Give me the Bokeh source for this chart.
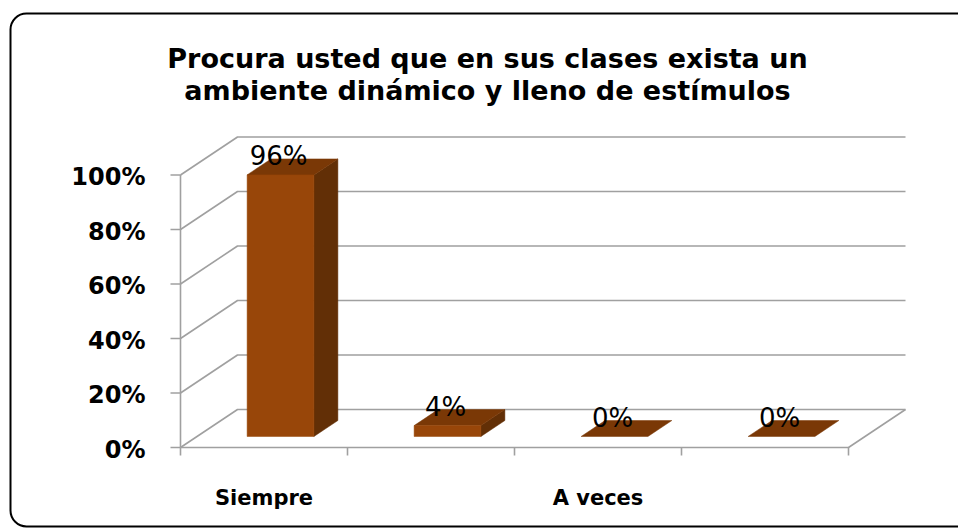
from bokeh.plotting import figure
from bokeh.models import Range1d, BoxAnnotation, ColumnDataSource, Label
from bokeh.core.properties import value
from bokeh.embed import file_html
from bokeh.resources import INLINE

# ---------------- data ----------------
title_lines = ["Procura usted que en sus clases exista un",
               "ambiente dinámico y lleno de estímulos"]
categories = ["Siempre", "Casi siempre", "A veces", "Nunca"]
shown_category_labels = ["Siempre", "", "A veces", ""]
percentages = [96, 4, 0, 0]
y_ticks = [0, 20, 40, 60, 80, 100]
y_tick_labels = ["0%", "20%", "40%", "60%", "80%", "100%"]

# ---------------- geometry (pixels -> data) ----------------
W, H = 958, 529
KX = 167.0      # px per category slot
KY = 2.725      # px per percent
X0_PX = 180.0   # canvas x of the front axis
Y0_PX = 447.0   # canvas y (from top) of the front floor line

x_start = -X0_PX / KX
y_start = -(H - Y0_PX) / KY


def px_x(d):
    return d / KX


def px_y(d):
    return d / KY


def cx(px):
    return x_start + px / KX


def cy(py):
    return y_start + (H - py) / KY


DX = px_x(57)   # depth of the 3-D box, horizontal
DY = px_y(38)   # depth of the 3-D box, vertical
F0, F1 = 0.29, 0.71
BW = 0.4
n = len(categories)

p = figure(width=W, height=H,
           x_range=Range1d(x_start, x_start + W / KX),
           y_range=Range1d(y_start, y_start + H / KY),
           output_backend="svg", toolbar_location=None, min_border=0,
           x_axis_type=None, y_axis_type=None, outline_line_color=None,
           background_fill_color="white", border_fill_color="white")

GRID = "#A0A0A0"

# walls / gridlines
gx, gy = [], []
for t in y_ticks:
    gx.append([0, DX, n + DX])
    gy.append([t, t + DY, t + DY])
p.multi_line(gx, gy, line_color=GRID, line_width=1.6)

# front vertical axis and floor outline
p.line([0, 0], [0, max(y_ticks)], line_color=GRID, line_width=1.6)
p.line([0, n, n + DX], [0, 0, DY], line_color=GRID, line_width=1.6)

# y ticks
p.multi_line([[px_x(-10), 0] for _ in y_ticks], [[t, t] for t in y_ticks],
             line_color=GRID, line_width=1.6)
# x ticks
p.multi_line([[i, i] for i in range(n + 1)], [[0, -px_y(8)] for _ in range(n + 1)],
             line_color=GRID, line_width=1.6)

# bars
front_l, front_r, front_b, front_t = [], [], [], []
side_xs, side_ys, top_xs, top_ys = [], [], [], []
ddx, ddy = (F1 - F0) * DX, (F1 - F0) * DY
for i, v in enumerate(percentages):
    xl = i + 0.5 - BW / 2 + F0 * DX
    xr = xl + BW
    yb = F0 * DY
    yt = v + F0 * DY
    if v > 0:
        front_l.append(xl); front_r.append(xr); front_b.append(yb); front_t.append(yt)
        side_xs.append([xr, xr, xr + ddx, xr + ddx])
        side_ys.append([yb, yt, yt + ddy, yb + ddy])
    top_xs.append([xl, xr, xr + ddx, xl + ddx])
    top_ys.append([yt, yt, yt + ddy, yt + ddy])

p.patches(side_xs, side_ys, fill_color="#622F06", line_color="#622F06", line_width=0.5)
p.patches(top_xs, top_ys, fill_color="#7A3806", line_color="#7A3806", line_width=0.5)
p.quad(left=front_l, right=front_r, bottom=front_b, top=front_t,
       fill_color="#984609", line_color="#984609", line_width=0.5)

# data labels
lab_src = ColumnDataSource(dict(
    x=[i + 0.5 + F0 * DX - px_x(2) for i in range(n)],
    y=[v + F1 * DY for v in percentages],
    t=["%d%%" % v for v in percentages]))
p.text(x="x", y="y", text="t", source=lab_src, text_align="center",
       text_baseline="alphabetic", y_offset=-3,
       text_font=value("DejaVu Sans"), text_font_size="26px", text_color="black")

# y tick labels
yt_src = ColumnDataSource(dict(x=[px_x(-35)] * len(y_ticks), y=y_ticks, t=y_tick_labels))
p.text(x="x", y="y", text="t", source=yt_src, text_align="right",
       text_baseline="middle", y_offset=2,
       text_font=value("DejaVu Sans"), text_font_style="bold",
       text_font_size="24px", text_color="black")

# category labels
cat_src = ColumnDataSource(dict(x=[i + 0.5 for i in range(n)], y=[0] * n,
                                t=shown_category_labels))
p.text(x="x", y="y", text="t", source=cat_src, text_align="center",
       text_baseline="alphabetic", y_offset=50,
       text_font=value("DejaVu Sans"), text_font_style="bold",
       text_font_size="21px", text_color="black")

# title
for k, line in enumerate(title_lines):
    p.add_layout(Label(x=cx(487), y=cy(58 + 32 * k), text=line,
                       text_align="center", text_baseline="alphabetic",
                       text_font="DejaVu Sans", text_font_style="bold",
                       text_font_size="27px", text_color="black"))

# rounded chart border
p.add_layout(BoxAnnotation(left=cx(10), right=cx(985), top=cy(13), bottom=cy(526),
                           fill_color=None, fill_alpha=0,
                           line_color="black", line_alpha=1.0, line_width=2,
                           border_radius=16))

open("out.html", "w").write(file_html(p, INLINE))
